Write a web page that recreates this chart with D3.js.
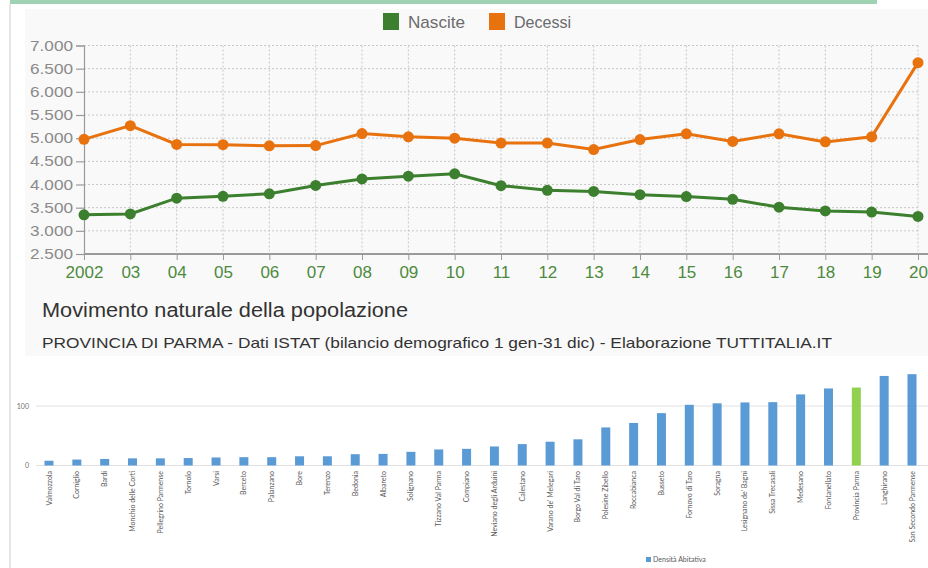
<!DOCTYPE html>
<html>
<head>
<meta charset="utf-8">
<script src="https://d3js.org/d3.v7.min.js"></script>
<style>
  body { margin: 0; background: #fff; }
  svg { display: block; }
</style>
</head>
<body>
<script>
  // line chart data
  var years = ["2002","03","04","05","06","07","08","09","10","11","12","13","14","15","16","17","18","19","20"];
  var nascite = [3345,3365,3705,3745,3800,3980,4120,4180,4230,3975,3875,3850,3780,3740,3680,3510,3430,3405,3310];
  var decessi = [4975,5270,4865,4860,4835,4840,5100,5030,5000,4895,4895,4755,4970,5095,4930,5095,4920,5030,6630];
  var yTicks = [2500,3000,3500,4000,4500,5000,5500,6000,6500,7000];

  // bar chart data
  var comuni = ["Valmozzola","Corniglio","Bardi","Monchio delle Corti","Pellegrino Parmense","Tornolo","Varsi","Berceto","Palanzano","Bore","Terenzo","Bedonia","Albareto","Solignano","Tizzano Val Parma","Compiano","Neviano degli Arduini","Calestano","Varano de' Melegari","Borgo Val di Taro","Polesine Zibello","Roccabianca","Busseto","Fornovo di Taro","Soragna","Lesignano de' Bagni","Sissa Trecasali","Medesano","Fontanellato","Provincia Parma","Langhirano","San Secondo Parmense"];
  var densita = [8,10,11,12,12,12.5,13.5,14,14,15.5,15.5,19,19.5,23,27,28,32,36,40,44,64,71.5,88,102,104.5,106,106.5,119.5,129.5,131,150.5,153.5];
  var barTicks = [0,100];

  var W = 928, H = 568;
  var svg = d3.select("body").append("svg").attr("width", W).attr("height", H);

  var GREEN = "#3c7f2e", ORANGE = "#e8720e";
  var font = "'Liberation Sans', Arial, sans-serif";

  // frame bits
  svg.append("rect").attr("x", 25).attr("y", 9).attr("width", W - 25).attr("height", 347).attr("fill", "#f9f9f9");
  svg.append("line").attr("x1", 10).attr("x2", 10).attr("y1", 4).attr("y2", H).attr("stroke", "#dcdcdc").attr("stroke-width", 1.5);
  svg.append("rect").attr("x", 10).attr("y", 0).attr("width", 867).attr("height", 4).attr("fill", "#9fd2b3");

  // ---- line chart ----
  var x = d3.scalePoint().domain(years).range([84, 918]);
  var y = d3.scaleLinear().domain([2500, 7000]).range([254, 45.5]);

  var grid = svg.append("g");
  grid.selectAll("line.h").data(yTicks.slice(1)).enter().append("line")
    .attr("x1", 84).attr("x2", 920)
    .attr("y1", function(d) { return y(d); }).attr("y2", function(d) { return y(d); })
    .attr("stroke", "#c8c8c8").attr("stroke-dasharray", "2,2");
  grid.selectAll("line.v").data(years.slice(1)).enter().append("line")
    .attr("x1", function(d) { return x(d); }).attr("x2", function(d) { return x(d); })
    .attr("y1", 45.5).attr("y2", 254)
    .attr("stroke", "#c8c8c8").attr("stroke-dasharray", "2,2");

  var yAxis = svg.append("g").attr("transform", "translate(84,0)")
    .call(d3.axisLeft(y).tickValues(yTicks).tickSize(8).tickFormat(function(d) { return d3.format(",")(d).replace(",", "."); }));
  yAxis.selectAll("text").attr("font-family", font).attr("font-size", 14.5).attr("fill", "#8a8a8a")
    .attr("textLength", 43).attr("lengthAdjust", "spacingAndGlyphs");
  yAxis.selectAll("line, path").attr("stroke", "#9a9a9a").attr("stroke-width", 1.2);

  var xAxis = svg.append("g").attr("transform", "translate(0,254)")
    .call(d3.axisBottom(x).tickSize(6).tickPadding(6));
  xAxis.select(".domain").attr("d", "M84,0H928").attr("stroke", "#9a9a9a").attr("stroke-width", 2);
  xAxis.selectAll("line").attr("stroke", "#9a9a9a");
  xAxis.selectAll("text").attr("font-family", font).attr("font-size", 17).attr("fill", "#4d8a3e");

  function series(vals, color) {
    var data = years.map(function(d, i) { return [d, vals[i]]; });
    svg.append("path").datum(data)
      .attr("fill", "none").attr("stroke", color).attr("stroke-width", 3)
      .attr("d", d3.line().x(function(d) { return x(d[0]); }).y(function(d) { return y(d[1]); }));
    svg.append("g").selectAll("circle").data(data).enter().append("circle")
      .attr("cx", function(d) { return x(d[0]); }).attr("cy", function(d) { return y(d[1]); })
      .attr("r", 5.5).attr("fill", color);
  }
  series(nascite, GREEN);
  series(decessi, ORANGE);

  // legend
  var leg = [{name: "Nascite", c: GREEN, x: 383}, {name: "Decessi", c: ORANGE, x: 489}];
  leg.forEach(function(l) {
    svg.append("rect").attr("x", l.x).attr("y", 13).attr("width", 16).attr("height", 17).attr("fill", l.c);
    svg.append("text").attr("x", l.x + 25).attr("y", 28).text(l.name)
      .attr("font-family", font).attr("font-size", 17).attr("fill", "#6b6b6b")
      .attr("textLength", 57).attr("lengthAdjust", "spacingAndGlyphs");
  });

  svg.append("text").attr("x", 42).attr("y", 317).text("Movimento naturale della popolazione")
    .attr("font-family", font).attr("font-size", 19.5).attr("fill", "#333")
    .attr("textLength", 366).attr("lengthAdjust", "spacingAndGlyphs");
  svg.append("text").attr("x", 42).attr("y", 348).text("PROVINCIA DI PARMA - Dati ISTAT (bilancio demografico 1 gen-31 dic) - Elaborazione TUTTITALIA.IT")
    .attr("font-family", font).attr("font-size", 15).attr("fill", "#333")
    .attr("textLength", 790).attr("lengthAdjust", "spacingAndGlyphs");

  // ---- bar chart ----
  var bx = d3.scalePoint().domain(comuni).range([49, 912]);
  var by = d3.scaleLinear().domain([0, 100]).range([465.5, 406]);
  var bfont = "Lato, 'Open Sans', sans-serif";

  svg.append("g").selectAll("line").data(barTicks).enter().append("line")
    .attr("x1", 36).attr("x2", W)
    .attr("y1", function(d) { return by(d); }).attr("y2", function(d) { return by(d); })
    .attr("stroke", "#e2e2e2").attr("stroke-width", 1);
  svg.append("g").selectAll("text").data(barTicks).enter().append("text")
    .attr("x", 29).attr("y", function(d) { return by(d) + 2.5; })
    .attr("text-anchor", "end").text(function(d) { return d; })
    .attr("font-family", bfont).attr("font-size", 7).attr("fill", "#707070");

  svg.append("g").selectAll("rect").data(comuni).enter().append("rect")
    .attr("x", function(d) { return bx(d) - 4.5; })
    .attr("y", function(d, i) { return by(densita[i]); })
    .attr("width", 9)
    .attr("height", function(d, i) { return by(0) - by(densita[i]); })
    .attr("fill", function(d) { return d === "Provincia Parma" ? "#92d050" : "#5b9bd5"; });

  svg.append("g").selectAll("text").data(comuni).enter().append("text")
    .attr("transform", function(d) { return "translate(" + (bx(d) + 2.5) + ",471) rotate(-90)"; })
    .attr("text-anchor", "end").text(function(d) { return d; })
    .attr("font-family", bfont).attr("font-size", 7).attr("fill", "#595959");

  svg.append("rect").attr("x", 646).attr("y", 557).attr("width", 5).attr("height", 5).attr("fill", "#5b9bd5");
  svg.append("text").attr("x", 653).attr("y", 562).text("Densità Abitativa")
    .attr("font-family", bfont).attr("font-size", 7).attr("fill", "#595959");
</script>
</body>
</html>
